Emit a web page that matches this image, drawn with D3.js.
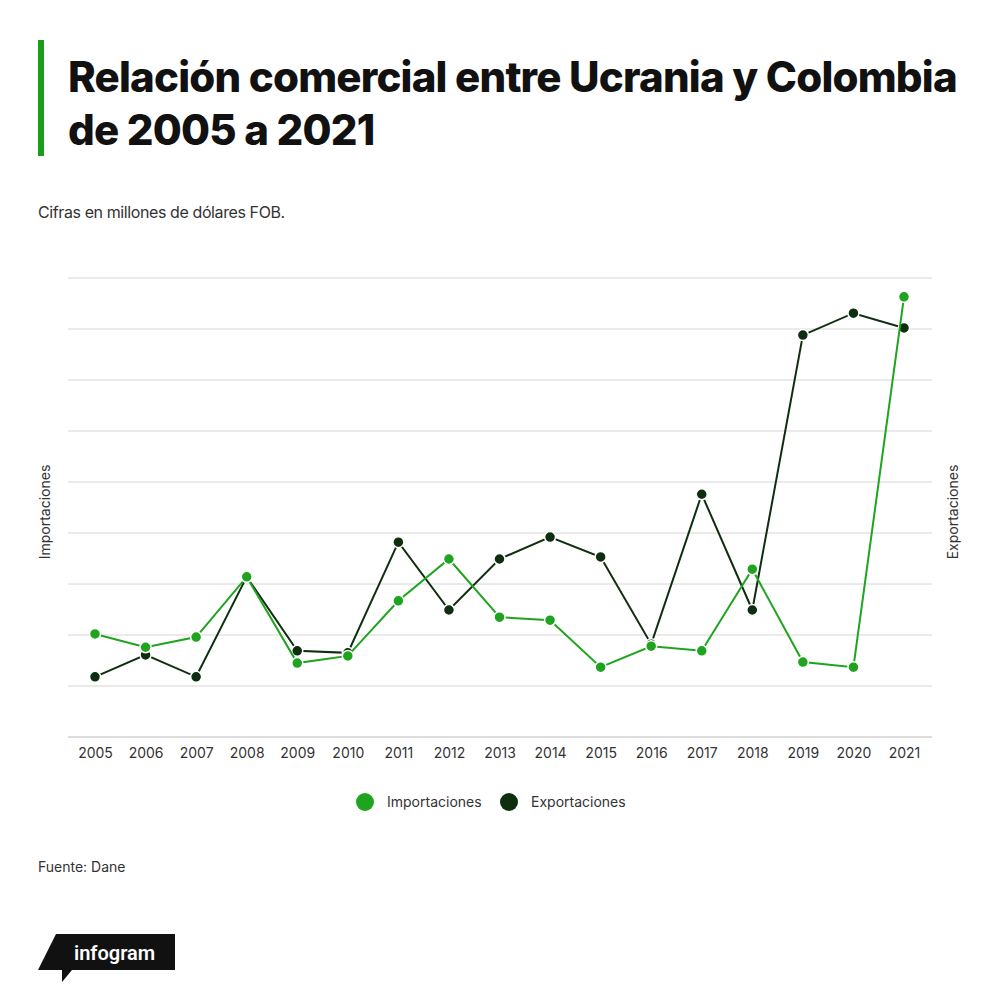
<!DOCTYPE html>
<html><head><meta charset="utf-8">
<script src="https://cdn.jsdelivr.net/npm/d3@7"></script>
<style>body{margin:0;background:#fff;font-family:Inter,"Noto Sans",sans-serif}</style>
</head><body><svg id="c" width="1000" height="1003"></svg>
<script>
const years = ["2005","2006","2007","2008","2009","2010","2011","2012","2013","2014","2015","2016","2017","2018","2019","2020","2021"];
const importaciones = [2.02,1.76,1.96,3.14,1.45,1.59,2.67,3.49,2.35,2.29,1.37,1.78,1.69,3.29,1.47,1.37,8.63];
const exportaciones = [1.18,1.61,1.18,3.14,1.69,1.65,3.82,2.49,3.49,3.92,3.53,1.82,4.76,2.49,7.88,8.31,8.02];
const gridTicks = d3.range(0,10);

const svg = d3.select("#c");
svg.append("rect").attr("x",38).attr("y",40).attr("width",6).attr("height",116).attr("fill","#1a9e1a");
svg.append("text").attr("x",68).attr("y",92).attr("font-size",42).attr("font-weight",800).attr("letter-spacing",-0.8).attr("fill","#111").text("Relación comercial entre Ucrania y Colombia");
svg.append("text").attr("x",68).attr("y",145).attr("font-size",42).attr("font-weight",800).attr("letter-spacing",-0.8).attr("fill","#111").text("de 2005 a 2021");
svg.append("text").attr("x",38).attr("y",218).attr("font-size",16).attr("fill","#333").attr("letter-spacing",-0.4).text("Cifras en millones de dólares FOB.");

const x = d3.scalePoint().domain(years).range([95,904]);
const y = d3.scaleLinear().domain([0,9]).range([737,278]);

svg.append("g").selectAll("line").data(gridTicks).join("line")
  .attr("x1",68).attr("x2",932).attr("y1",d=>y(d)).attr("y2",d=>y(d))
  .attr("stroke",d=>d===0?"#bbb":"#d6d6d6").attr("stroke-width",1);

const xa = svg.append("g").attr("transform","translate(0,737)").call(d3.axisBottom(x).tickSize(0).tickPadding(11));
xa.select(".domain").remove();
xa.selectAll("text").attr("font-size",14).attr("fill","#333").attr("font-family","Inter,sans-serif");

svg.append("text").attr("transform","translate(50,512) rotate(-90)").attr("text-anchor","middle").attr("font-size",14).attr("fill","#333").text("Importaciones");
svg.append("text").attr("transform","translate(958,512) rotate(-90)").attr("text-anchor","middle").attr("font-size",14).attr("fill","#333").text("Exportaciones");

const series = [
  {name:"Exportaciones", values:exportaciones, color:"#0f2e10"},
  {name:"Importaciones", values:importaciones, color:"#1ea41e"}
];
const line = d3.line().x((d,i)=>x(years[i])).y(d=>y(d));
series.forEach(s=>{
  svg.append("path").datum(s.values).attr("d",line).attr("fill","none").attr("stroke",s.color).attr("stroke-width",2);
  svg.append("g").selectAll("circle").data(s.values).join("circle")
    .attr("cx",(d,i)=>x(years[i])).attr("cy",d=>y(d)).attr("r",5.5)
    .attr("fill",s.color).attr("stroke","#fff").attr("stroke-width",1.5);
});

const leg = [{name:"Importaciones",color:"#1ea41e",x:365},{name:"Exportaciones",color:"#0f2e10",x:509}];
leg.forEach(l=>{
  svg.append("circle").attr("cx",l.x).attr("cy",802).attr("r",9).attr("fill",l.color);
  svg.append("text").attr("x",l.x+22).attr("y",807).attr("font-size",14).attr("fill","#333").text(l.name);
});

svg.append("text").attr("x",38).attr("y",872).attr("font-size",14).attr("fill","#333").text("Fuente: Dane");

svg.append("path").attr("d","M56,934 L175,934 L175,970 L72,970 L62,982 L62,970 L38,970 Z").attr("fill","#111");
svg.append("text").attr("x",74).attr("y",960).attr("font-size",20).attr("font-weight",600).attr("fill","#fff").attr("font-family","Roboto,sans-serif").text("infogram");
</script></body></html>
